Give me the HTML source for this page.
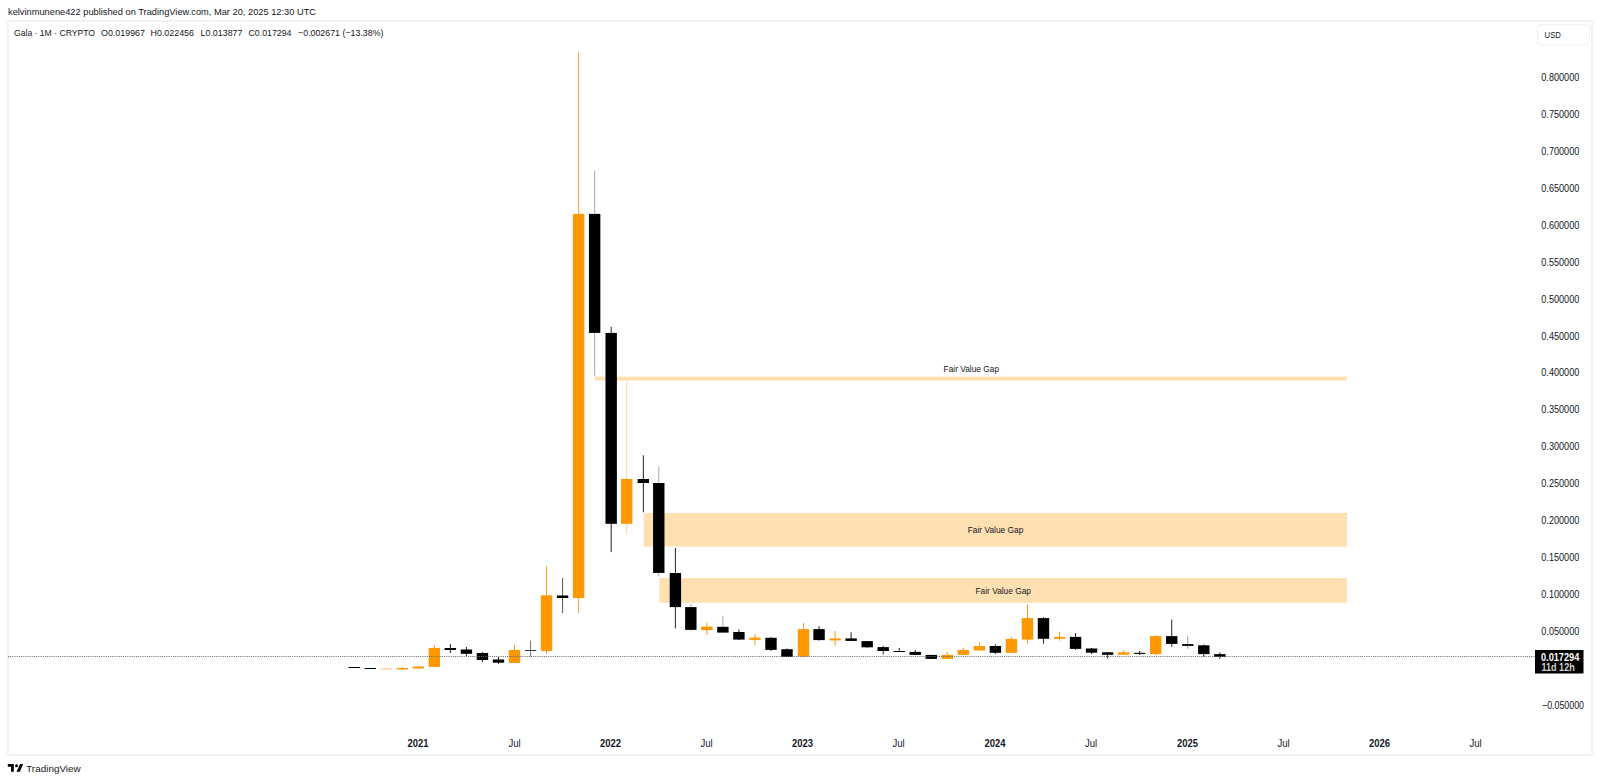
<!DOCTYPE html>
<html><head><meta charset="utf-8"><style>
html,body{margin:0;padding:0;background:#fff;}
body{width:1600px;height:782px;overflow:hidden;position:relative;font-family:"Liberation Sans",sans-serif;}
svg{position:absolute;left:0;top:0;}
.hd{font-size:9.2px;fill:#131722;}
.ax{font-size:10.5px;fill:#131722;}
.ty{font-size:10.5px;font-weight:bold;fill:#131722;}
.tm{font-size:10.5px;fill:#131722;}
.fv{font-size:9px;fill:#131722;}
</style></head><body>
<svg width="1600" height="782" viewBox="0 0 1600 782">
<rect x="0" y="0" width="1600" height="782" fill="#fff"/>
<text x="8" y="15" class="hd" textLength="308" lengthAdjust="spacingAndGlyphs">kelvinmunene422 published on TradingView.com, Mar 20, 2025 12:30 UTC</text>
<rect x="8" y="21" width="1584" height="734" fill="none" stroke="#f2f2f2" stroke-width="2"/>
<text x="14" y="36" class="hd" textLength="81" lengthAdjust="spacingAndGlyphs">Gala · 1M · CRYPTO</text>
<text x="101" y="36" class="hd" textLength="44" lengthAdjust="spacingAndGlyphs">O0.019967</text>
<text x="150.5" y="36" class="hd" textLength="43.5" lengthAdjust="spacingAndGlyphs">H0.022456</text>
<text x="200.5" y="36" class="hd" textLength="42" lengthAdjust="spacingAndGlyphs">L0.013877</text>
<text x="248.5" y="36" class="hd" textLength="43" lengthAdjust="spacingAndGlyphs">C0.017294</text>
<text x="298" y="36" class="hd" textLength="85.5" lengthAdjust="spacingAndGlyphs">−0.002671 (−13.38%)</text>
<rect x="1537.5" y="24.5" width="52" height="20.5" rx="4" fill="#fff" stroke="#f0f0f0" stroke-width="1"/>
<text x="1544.6" y="38.1" class="ax" style="font-size:9.8px" textLength="16.3" lengthAdjust="spacingAndGlyphs">USD</text>
<!-- FVG -->
<rect x="595" y="376.6" width="752" height="4" fill="#ffe0b2"/>
<rect x="643.7" y="513" width="703.3" height="33.6" fill="#ffe0b2"/>
<rect x="659.3" y="578" width="687.7" height="24.8" fill="#ffe0b2"/>
<text x="943.6" y="371.7" class="fv" textLength="55.5" lengthAdjust="spacingAndGlyphs">Fair Value Gap</text>
<text x="967.7" y="532.9" class="fv" textLength="55.7" lengthAdjust="spacingAndGlyphs">Fair Value Gap</text>
<text x="975.5" y="593.5" class="fv" textLength="55.5" lengthAdjust="spacingAndGlyphs">Fair Value Gap</text>
<rect x="348.50" y="667" width="11.4" height="1" fill="#000000"/>
<rect x="364.53" y="668" width="11.4" height="1" fill="#000000"/>
<rect x="385.76" y="668" width="1" height="1.5" fill="#ffc480"/>
<rect x="380.56" y="668.5" width="11.4" height="1" fill="#ffc480"/>
<rect x="401.79" y="667" width="1" height="2.5" fill="#ff9800"/>
<rect x="396.59" y="668" width="11.4" height="1.5" fill="#ff9800"/>
<rect x="417.82" y="665.8" width="1" height="2.7" fill="#ff9800"/>
<rect x="412.62" y="666.5" width="11.4" height="2" fill="#ff9800"/>
<rect x="433.85" y="645" width="1" height="22" fill="#ff9800"/>
<rect x="428.65" y="647.9" width="11.4" height="19" fill="#ff9800"/>
<rect x="449.88" y="644" width="1" height="9" fill="#222"/>
<rect x="444.68" y="648" width="11.4" height="2" fill="#000000"/>
<rect x="465.91" y="647" width="1" height="9" fill="#222"/>
<rect x="460.71" y="649.5" width="11.4" height="4.3" fill="#000000"/>
<rect x="481.94" y="652" width="1" height="10" fill="#222"/>
<rect x="476.74" y="653" width="11.4" height="7" fill="#000000"/>
<rect x="497.97" y="657" width="1" height="7" fill="#222"/>
<rect x="492.77" y="659.5" width="11.4" height="3.2" fill="#000000"/>
<rect x="514.00" y="645" width="1" height="18" fill="#ff9800"/>
<rect x="508.80" y="650" width="11.4" height="13" fill="#ff9800"/>
<rect x="530.03" y="640.6" width="1" height="16.1" fill="#777"/>
<rect x="524.83" y="650" width="11.4" height="1" fill="#333"/>
<rect x="546.06" y="566" width="1" height="88" fill="#ff9f1a"/>
<rect x="540.86" y="595.3" width="11.4" height="55.7" fill="#ff9800"/>
<rect x="562.09" y="578" width="1" height="35" fill="#555"/>
<rect x="556.89" y="595.5" width="11.4" height="2.5" fill="#000000"/>
<rect x="578.12" y="52.3" width="1" height="560.7" fill="#ffa033"/>
<rect x="572.92" y="213.9" width="11.4" height="384.1" fill="#ff9800"/>
<rect x="594.15" y="170.7" width="1" height="205" fill="#aaa"/>
<rect x="588.95" y="213.9" width="11.4" height="119" fill="#000000"/>
<rect x="610.68" y="326.8" width="1" height="225.3" fill="#222"/>
<rect x="605.48" y="332.9" width="11.4" height="190.9" fill="#000000"/>
<rect x="626.21" y="381.1" width="1" height="153.6" fill="#ffcfa8"/>
<rect x="621.01" y="479" width="11.4" height="44.8" fill="#ff9800"/>
<rect x="642.84" y="455.3" width="1" height="57" fill="#222"/>
<rect x="637.64" y="479" width="11.4" height="4" fill="#000000"/>
<rect x="658.27" y="466.4" width="1" height="110" fill="#aaa"/>
<rect x="653.07" y="483" width="11.4" height="89.9" fill="#000000"/>
<rect x="674.90" y="548" width="1" height="80.5" fill="#222"/>
<rect x="669.70" y="573" width="11.4" height="34.1" fill="#000000"/>
<rect x="690.33" y="604" width="1" height="26.7" fill="#aaa"/>
<rect x="685.13" y="607.1" width="11.4" height="22.8" fill="#000000"/>
<rect x="706.36" y="622.6" width="1" height="12.3" fill="#ff9800"/>
<rect x="701.16" y="626.6" width="11.4" height="3.5" fill="#ff9800"/>
<rect x="722.39" y="615.6" width="1" height="17.4" fill="#aaa"/>
<rect x="717.19" y="626.8" width="11.4" height="5.8" fill="#000000"/>
<rect x="738.42" y="629.5" width="1" height="10.5" fill="#222"/>
<rect x="733.22" y="632" width="11.4" height="7.6" fill="#000000"/>
<rect x="754.45" y="633.7" width="1" height="11.3" fill="#ff9800"/>
<rect x="749.25" y="637.6" width="11.4" height="2.3" fill="#ff9800"/>
<rect x="770.48" y="637" width="1" height="14" fill="#222"/>
<rect x="765.28" y="637.8" width="11.4" height="12.1" fill="#000000"/>
<rect x="786.51" y="648.5" width="1" height="8.5" fill="#222"/>
<rect x="781.31" y="649.2" width="11.4" height="7.7" fill="#000000"/>
<rect x="803.04" y="622.9" width="1" height="34.1" fill="#ff9800"/>
<rect x="797.84" y="629.1" width="11.4" height="27.5" fill="#ff9800"/>
<rect x="818.57" y="626.1" width="1" height="14.4" fill="#222"/>
<rect x="813.37" y="629.1" width="11.4" height="11" fill="#000000"/>
<rect x="834.60" y="631.1" width="1" height="14.7" fill="#ff9800"/>
<rect x="829.40" y="638.4" width="11.4" height="2" fill="#ff9800"/>
<rect x="850.63" y="632.3" width="1" height="8.7" fill="#222"/>
<rect x="845.43" y="638.4" width="11.4" height="2.5" fill="#000000"/>
<rect x="866.66" y="641" width="1" height="7" fill="#222"/>
<rect x="861.46" y="641.1" width="11.4" height="6.2" fill="#000000"/>
<rect x="882.69" y="646" width="1" height="8.4" fill="#222"/>
<rect x="877.49" y="647.1" width="11.4" height="3.9" fill="#000000"/>
<rect x="898.72" y="647.9" width="1" height="4.1" fill="#222"/>
<rect x="893.52" y="651" width="11.4" height="1" fill="#000000"/>
<rect x="914.75" y="650" width="1" height="5" fill="#222"/>
<rect x="909.55" y="651.9" width="11.4" height="3" fill="#000000"/>
<rect x="925.58" y="654.9" width="11.4" height="4" fill="#000000"/>
<rect x="946.81" y="652" width="1" height="7" fill="#ff9800"/>
<rect x="941.61" y="654.9" width="11.4" height="4" fill="#ff9800"/>
<rect x="962.84" y="648" width="1" height="7" fill="#ff9800"/>
<rect x="957.64" y="650" width="11.4" height="4.9" fill="#ff9800"/>
<rect x="978.87" y="642.2" width="1" height="8.3" fill="#ff9800"/>
<rect x="973.67" y="646" width="11.4" height="4.5" fill="#ff9800"/>
<rect x="994.90" y="644.5" width="1" height="9.5" fill="#222"/>
<rect x="989.70" y="646" width="11.4" height="6.8" fill="#000000"/>
<rect x="1010.93" y="637" width="1" height="16" fill="#ff9800"/>
<rect x="1005.73" y="639" width="11.4" height="13.8" fill="#ff9800"/>
<rect x="1026.96" y="604.5" width="1" height="39.3" fill="#ff9800"/>
<rect x="1021.76" y="618.1" width="11.4" height="21.5" fill="#ff9800"/>
<rect x="1042.99" y="617" width="1" height="26.8" fill="#222"/>
<rect x="1037.79" y="618.1" width="11.4" height="20.7" fill="#000000"/>
<rect x="1059.02" y="631.9" width="1" height="8.7" fill="#ff9800"/>
<rect x="1053.82" y="636.9" width="11.4" height="1.9" fill="#ff9800"/>
<rect x="1075.05" y="633" width="1" height="17" fill="#222"/>
<rect x="1069.85" y="636.9" width="11.4" height="12" fill="#000000"/>
<rect x="1091.08" y="648" width="1" height="6" fill="#222"/>
<rect x="1085.88" y="648.5" width="11.4" height="4.2" fill="#000000"/>
<rect x="1107.11" y="652" width="1" height="6.5" fill="#222"/>
<rect x="1101.91" y="652.3" width="11.4" height="2.5" fill="#000000"/>
<rect x="1123.14" y="650" width="1" height="5" fill="#ff9800"/>
<rect x="1117.94" y="652.3" width="11.4" height="2.5" fill="#ff9800"/>
<rect x="1139.17" y="650.9" width="1" height="4.1" fill="#222"/>
<rect x="1133.97" y="652.8" width="11.4" height="1.1" fill="#000000"/>
<rect x="1155.20" y="635.5" width="1" height="20" fill="#ff9800"/>
<rect x="1150.00" y="636.1" width="11.4" height="18" fill="#ff9800"/>
<rect x="1171.23" y="619.6" width="1" height="27.2" fill="#222"/>
<rect x="1166.03" y="636.1" width="11.4" height="7.8" fill="#000000"/>
<rect x="1187.26" y="635.9" width="1" height="13" fill="#999"/>
<rect x="1182.06" y="644.1" width="11.4" height="1.8" fill="#000000"/>
<rect x="1203.29" y="644.5" width="1" height="12.4" fill="#222"/>
<rect x="1198.09" y="645.3" width="11.4" height="8.8" fill="#000000"/>
<rect x="1219.32" y="652.4" width="1" height="6.2" fill="#222"/>
<rect x="1214.12" y="654.1" width="11.4" height="2.8" fill="#000000"/>
<line x1="8" y1="656.5" x2="1535" y2="656.5" stroke="#666" stroke-width="1" stroke-dasharray="1 1.17"/>
<text x="1541.3" y="81.0" class="ax" textLength="38" lengthAdjust="spacingAndGlyphs">0.800000</text>
<text x="1541.3" y="117.9" class="ax" textLength="38" lengthAdjust="spacingAndGlyphs">0.750000</text>
<text x="1541.3" y="154.8" class="ax" textLength="38" lengthAdjust="spacingAndGlyphs">0.700000</text>
<text x="1541.3" y="191.8" class="ax" textLength="38" lengthAdjust="spacingAndGlyphs">0.650000</text>
<text x="1541.3" y="228.7" class="ax" textLength="38" lengthAdjust="spacingAndGlyphs">0.600000</text>
<text x="1541.3" y="265.6" class="ax" textLength="38" lengthAdjust="spacingAndGlyphs">0.550000</text>
<text x="1541.3" y="302.6" class="ax" textLength="38" lengthAdjust="spacingAndGlyphs">0.500000</text>
<text x="1541.3" y="339.5" class="ax" textLength="38" lengthAdjust="spacingAndGlyphs">0.450000</text>
<text x="1541.3" y="376.4" class="ax" textLength="38" lengthAdjust="spacingAndGlyphs">0.400000</text>
<text x="1541.3" y="413.3" class="ax" textLength="38" lengthAdjust="spacingAndGlyphs">0.350000</text>
<text x="1541.3" y="450.2" class="ax" textLength="38" lengthAdjust="spacingAndGlyphs">0.300000</text>
<text x="1541.3" y="487.2" class="ax" textLength="38" lengthAdjust="spacingAndGlyphs">0.250000</text>
<text x="1541.3" y="524.1" class="ax" textLength="38" lengthAdjust="spacingAndGlyphs">0.200000</text>
<text x="1541.3" y="561.0" class="ax" textLength="38" lengthAdjust="spacingAndGlyphs">0.150000</text>
<text x="1541.3" y="597.9" class="ax" textLength="38" lengthAdjust="spacingAndGlyphs">0.100000</text>
<text x="1541.3" y="634.9" class="ax" textLength="38" lengthAdjust="spacingAndGlyphs">0.050000</text>
<text x="1542" y="708.7" class="ax" textLength="42" lengthAdjust="spacingAndGlyphs">−0.050000</text>
<rect x="1535" y="650" width="48.5" height="23.5" fill="#000"/>
<text x="1541" y="660.5" font-size="10" font-weight="bold" fill="#fff" textLength="38.3" lengthAdjust="spacingAndGlyphs">0.017294</text>
<text x="1541.5" y="671" font-size="10" font-weight="bold" fill="#d0d0d0" textLength="33.2" lengthAdjust="spacingAndGlyphs">11d 12h</text>
<text x="407.5" y="747" class="ty" textLength="21" lengthAdjust="spacingAndGlyphs">2021</text>
<text x="508.4" y="747" class="tm" textLength="12.2" lengthAdjust="spacingAndGlyphs">Jul</text>
<text x="600.0" y="747" class="ty" textLength="21" lengthAdjust="spacingAndGlyphs">2022</text>
<text x="700.4" y="747" class="tm" textLength="12.2" lengthAdjust="spacingAndGlyphs">Jul</text>
<text x="792.0" y="747" class="ty" textLength="21" lengthAdjust="spacingAndGlyphs">2023</text>
<text x="892.4" y="747" class="tm" textLength="12.2" lengthAdjust="spacingAndGlyphs">Jul</text>
<text x="984.5" y="747" class="ty" textLength="21" lengthAdjust="spacingAndGlyphs">2024</text>
<text x="1084.9" y="747" class="tm" textLength="12.2" lengthAdjust="spacingAndGlyphs">Jul</text>
<text x="1177.0" y="747" class="ty" textLength="21" lengthAdjust="spacingAndGlyphs">2025</text>
<text x="1277.4" y="747" class="tm" textLength="12.2" lengthAdjust="spacingAndGlyphs">Jul</text>
<text x="1369.0" y="747" class="ty" textLength="21" lengthAdjust="spacingAndGlyphs">2026</text>
<text x="1469.4" y="747" class="tm" textLength="12.2" lengthAdjust="spacingAndGlyphs">Jul</text>
<text x="26.2" y="771.8" font-size="9.5" fill="#131722" textLength="54.5" lengthAdjust="spacingAndGlyphs">TradingView</text>
<path d="M7.8 764H13.8V771.7H11V766.8H7.8Z" fill="#000"/>
<circle cx="16.5" cy="765.8" r="1.5" fill="#000"/>
<path d="M20.1 764H23.1L19.9 771.7H16.5Z" fill="#000"/>
</svg>
</body></html>
